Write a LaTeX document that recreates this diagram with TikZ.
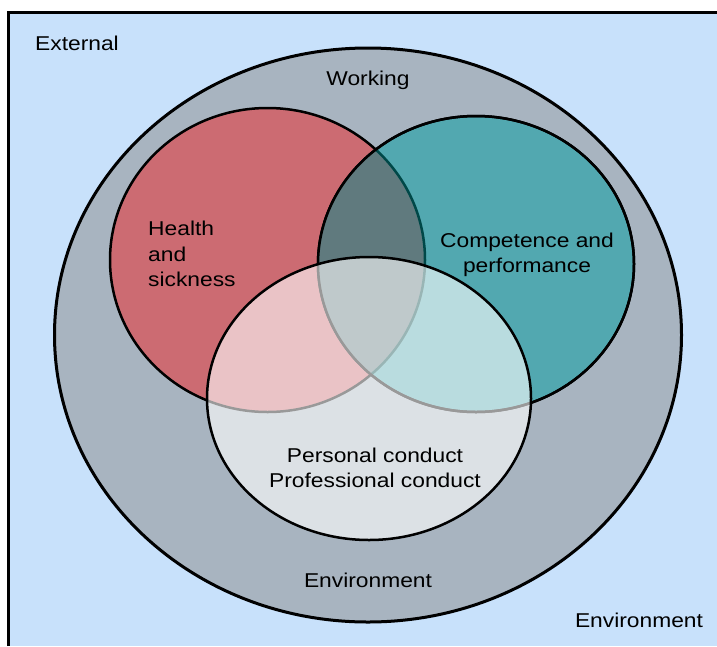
\documentclass[tikz,border=0pt]{standalone}
\usepackage{fontspec}
\setmainfont{Liberation Sans}[FakeStretch=1.14]
\definecolor{sfondo}{RGB}{200,225,251}
\definecolor{grigio}{RGB}{168,180,192}
\definecolor{rosso}{RGB}{204,107,114}
\definecolor{verde}{RGB}{82,168,176}
\definecolor{lente}{RGB}{96,122,126}
\definecolor{bordoverde}{RGB}{0,72,72}
\tikzset{
    etichetta/.style={font=\fontsize{20}{25.5}\selectfont, align=center, inner sep=0pt},
    contorno/.style={line width=2.5pt, black},
}
\begin{document}
\begin{tikzpicture}[x=1pt, y=-1pt]
    \useasboundingbox (0,0) rectangle (717,646);

    % Sfondo
    \fill[sfondo] (8.5,12.5) rectangle (717,646);
    \draw[line width=3.5pt] (8.5,646) -- (8.5,12.5) -- (717,12.5);

    % Ambiente di lavoro
    \draw[contorno, line width=3pt, fill=grigio] (368,335) ellipse [x radius=313.5, y radius=287];

    % Parte A e B
    \draw[contorno, fill=rosso] (267.5,260) ellipse [x radius=157.5, y radius=152];
    \draw[contorno, fill=verde] (476,264) ellipse [x radius=158, y radius=148];

    % Parte A e B insieme
    \begin{scope}
        \clip (476,264) ellipse [x radius=158, y radius=148];
        \fill[lente] (267.5,260) ellipse [x radius=157.5, y radius=152];
        \draw[contorno, bordoverde] (267.5,260) ellipse [x radius=157.5, y radius=152];
    \end{scope}
    \draw[contorno] (476,264) ellipse [x radius=158, y radius=148];

    % Parte C
    \draw[contorno, fill=white, fill opacity=0.6] (369,398.5) ellipse [x radius=162, y radius=141.5];

    % Etichette
    \node[etichetta] (esterno) at (77,43) {External};
    \node[etichetta] (lavoro) at (368,80) {Working};
    \node[etichetta, align=left, anchor=west] (salute) at (148,254) {Health\\and\\sickness};
    \node[etichetta] (competenza) at (527,255) {Competence and\\performance};
    \node[etichetta] (condotta) at (375,468) {Personal conduct\\Professional conduct};
    \node[etichetta] (ambiente) at (368,580) {Environment};
    \node[etichetta] (ambientefuori) at (639,620) {Environment};
\end{tikzpicture}
\end{document}
